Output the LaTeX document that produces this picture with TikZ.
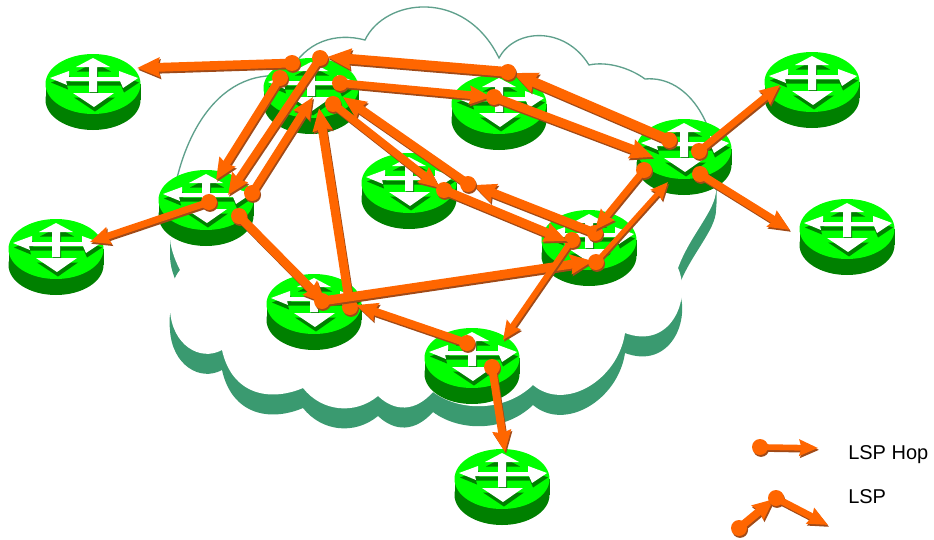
\documentclass[tikz,border=0pt]{standalone}
\usepackage{fontspec}
\setmainfont{Liberation Sans}
\usetikzlibrary{arrows.meta,shapes.geometric}
\definecolor{rlight}{HTML}{00FF00}
\definecolor{rdark}{HTML}{008000}
\definecolor{hopc}{HTML}{FF6600}
\definecolor{hopd}{HTML}{A04A18}
\definecolor{cloudd}{HTML}{3A9A70}
\definecolor{cloudl}{HTML}{5FA08C}
\tikzset{
  x=.75pt,y=-.75pt,
  routertop/.style={ellipse,fill=rlight,minimum width=71.25pt,minimum height=45pt,inner sep=0pt},
  tailc/.style={circle,fill=hopc,minimum size=12pt,inner sep=0pt},
  hopline/.style={draw=hopc,line cap=butt},
  hopdrop/.style={draw=hopd,transform canvas={xshift=.8pt,yshift=-1.4pt}},
  legendtext/.style={font=\fontsize{15}{17}\selectfont,anchor=west,inner sep=0pt}
}
\def\crossglyph{(0,-26) -- (17,-17) -- (4,-17) -- (4,-7) -- (26,-7) -- (26,-13) -- (45,-6) -- (30,4) -- (27,-3) -- (4,-3) -- (4,8) -- (-4,8) -- (-4,-3) -- (-27,-3) -- (-26,1) -- (-43,-6) -- (-24,-13) -- (-24,-7) -- (-4,-7) -- (-4,-17) -- (-17,-17) -- cycle
 (-20,9) -- (21,9) -- (1,23) -- cycle}
\newcommand\router[3]{%
  \begin{scope}[shift={(#2,#3)}]
    \fill[rdark] (0,16) ellipse[x radius=47.5,y radius=30];
    \fill[rdark] (-47.5,0) rectangle (47.5,16);
    \node[routertop] (#1) at (0,0) {};
    \fill[rdark,shift={(1,4.5)}] \crossglyph;
    \fill[white] \crossglyph;
  \end{scope}}
% name, tail, tip, width in px
\newcommand\hop[4]{%
  \pgfmathsetlengthmacro\hoplen{(12+1.3*#4)*.75pt}%
  \pgfmathsetlengthmacro\hopwid{(11+#4)*.75pt}%
  \pgfmathsetlengthmacro\hoplw{(#4+.8)*.75pt}%
  \coordinate (#1-t) at (#3);
  \fill[hopd,transform canvas={xshift=.8pt,yshift=-1.4pt}] (#2) circle (8);
  \draw[hopdrop,line width=\hoplw,-{Stealth[length=\hoplen,width=\hopwid,inset=1.5pt]}] (#2) -- (#1-t);
  \node[tailc] (#1) at (#2) {};
  \draw[hopline,line width=\hoplw,-{Stealth[length=\hoplen,width=\hopwid,inset=1.5pt]}] (#1.center) -- (#1-t);}
\def\cloudtop{
 (170,235) .. controls (170,170) and (200,82) .. (267,76) -- (290,72)
 .. controls (305,42) and (335,32) .. (365,40)
 .. controls (385,-2) and (465,-12) .. (499,58)
 .. controls (515,28) and (565,26) .. (589,65)
 .. controls (607,61) and (630,68) .. (645,79)
 .. controls (690,75) and (722,130) .. (716,190)}
\def\cloudoutline{
 (180,270) .. controls (174,258) and (170,247) .. \cloudtop
 .. controls (716,210) and (690,235) .. (678,268)
 .. controls (692,300) and (670,350) .. (625,333)
 .. controls (618,380) and (565,412) .. (533,385)
 .. controls (505,412) and (460,412) .. (433,392)
 .. controls (415,412) and (395,412) .. (378,396)
 .. controls (355,415) and (322,412) .. (303,388)
 .. controls (270,402) and (232,395) .. (222,350)
 .. controls (200,362) and (172,345) .. (170,310)
 .. controls (168,295) and (172,280) .. (180,270) -- cycle}
\begin{document}
\begin{tikzpicture}
\useasboundingbox (0,0) rectangle (934,539);
\fill[white] (0,0) rectangle (934,539);
% cloud
\begin{scope}[shift={(0,20)}]
  \fill[cloudd] \cloudoutline;
\end{scope}
\fill[white] \cloudoutline;
\draw[cloudl,line width=1pt,line join=miter] \cloudtop;
% routers
\router{rA}{93}{84}
\router{rB}{311}{88}
\router{rC}{499}{104}
\router{rD}{684}{149}
\router{rE}{812}{82}
\router{rF}{847}{229}
\router{rG}{409}{183}
\router{rH}{589}{240}
\router{rI}{206}{200}
\router{rJ}{56}{249}
\router{rK}{314}{304}
\router{rL}{472}{358}
\router{rM}{502}{479}
% hops
\hop{h1}{292,63}{137,68}{8}
\hop{h2}{320,58}{228,195}{7}
\hop{h3}{280,78}{216,180}{7}
\hop{h4}{252,193}{313,97}{7}
\hop{h5}{209,202}{90,242}{6}
\hop{h6}{239,216}{326,304}{8}
\hop{h9}{350,307}{319,108}{8}
\hop{h10}{467,343}{356,305}{7}
\hop{h7}{322,301}{593,261}{8}
\hop{h8}{596,262}{668,182}{4}
\hop{h11}{492,367}{505,452}{7}
\hop{h12}{572,240}{503,340}{5}
\hop{h13}{595,233}{473,185}{8}
\hop{h14}{468,184}{343,97}{8}
\hop{h15}{333,104}{440,188}{7}
\hop{h16}{444,190}{567,241}{8}
\hop{h17}{644,170}{595,230}{6}
\hop{h18}{669,140}{513,73}{9}
\hop{h19}{508,72}{327,57}{9}
\hop{h20}{340,83}{491,97}{7}
\hop{h21}{494,97}{653,157}{8}
\hop{h22}{699,151}{780,85}{6}
\hop{h23}{700,174}{790,230}{7}
% legend
\hop{l1}{760,447}{818,448}{5}
\hop{l2}{739,528}{774,499}{7}
\hop{l3}{776,498}{828,525}{6}
\node[legendtext] (lgA) at (848,455) {LSP Hop};
\node[legendtext] (lgB) at (848,497) {LSP};
\end{tikzpicture}
\end{document}
